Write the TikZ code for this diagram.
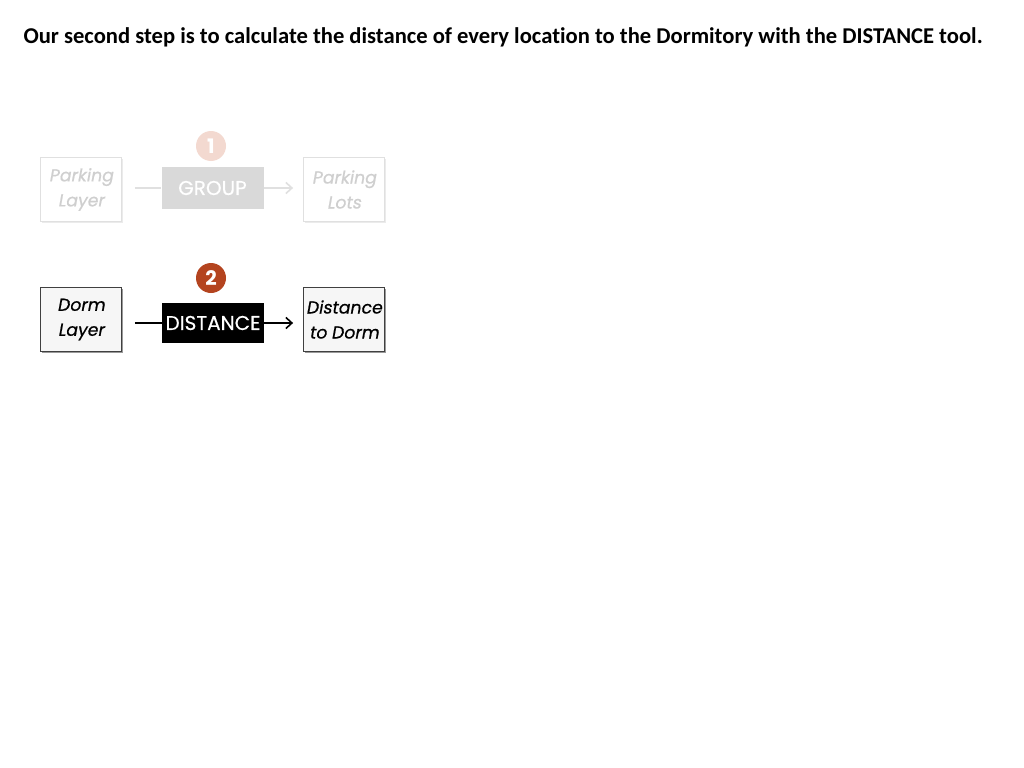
\documentclass[tikz,border=0pt]{standalone}
\usepackage{fontspec}
\setmainfont[Ligatures={NoCommon}]{Carlito}
\newfontfamily\futit[FakeSlant=0.18,FakeBold=0.6]{Poppins}
\newfontfamily\futup[FakeBold=0.5]{Poppins}
\newfontfamily\futnum{Poppins}
\usetikzlibrary{arrows.meta,shadows}
\definecolor{rust}{HTML}{B4441F}
\definecolor{paleRust}{HTML}{F3D9D0}
\definecolor{fadeText}{HTML}{CFCFCF}
\definecolor{fadeLine}{HTML}{E0E0E0}
\definecolor{fadeFill}{HTML}{D9D9D9}
\definecolor{boxFill}{HTML}{F6F6F6}
\begin{document}
\begin{tikzpicture}[x=1bp,y=-1bp,
  layerbox/.style={draw=black!75, line width=0.8bp, fill=boxFill, minimum width=81bp, minimum height=64bp,
    inner sep=0pt, align=center, font=\futit\fontsize{17.3bp}{25bp}\selectfont,
    drop shadow={shadow xshift=1.5bp, shadow yshift=-1.5bp, fill=black!40, opacity=1}},
  fadebox/.style={draw=fadeLine, line width=0.8bp, fill=white, minimum width=81bp, minimum height=64bp,
    inner sep=0pt, align=center, text=fadeText, font=\futit\fontsize{17.3bp}{25bp}\selectfont,
    drop shadow={shadow xshift=1.5bp, shadow yshift=-1.5bp, fill=black!8, opacity=1}},
  toolbox/.style={fill=black, text=white, minimum width=102bp, minimum height=40bp, inner sep=0pt,
    font=\futup\fontsize{20bp}{22bp}\selectfont},
  fadetool/.style={fill=fadeFill, text=white, minimum width=102bp, minimum height=42bp, inner sep=0pt,
    font=\futup\fontsize{20bp}{22bp}\selectfont},
  stepnum/.style={circle, fill=rust, text=white, minimum size=30bp, inner sep=0pt,
    font=\futnum\bfseries\fontsize{20bp}{22bp}\selectfont},
  fadenum/.style={circle, fill=paleRust, text=white, minimum size=30bp, inner sep=0pt,
    font=\futnum\bfseries\fontsize{20bp}{22bp}\selectfont},
  conn/.style={line width=2bp, black},
  fadeconn/.style={line width=2bp, fadeLine},
]
\useasboundingbox (0,0) rectangle (1024,768);
\fill[white] (0,0) rectangle (1024,768);

\node[anchor=west, font=\bfseries\fontsize{22.6bp}{26bp}\selectfont] (title) at (20,37)
  {Our second step is to calculate the distance of every location to the Dormitory with the DISTANCE tool.};

% row 1 (faded)
\node[fadebox] (park) at (81,189.5) {Parking\\Layer};
\node[fadetool] (group) at (212.5,188) {GROUP};
\node[fadebox] (lots) at (344,189.5) {Parking\\Lots};
\node[fadenum] (n1) at (211,146) {1};
\draw[fadeconn, shorten <=13bp] (park.east |- group.west) -- (group.west);
\draw[fadeconn, -{Straight Barb[length=6bp,width=11bp,line width=1.6bp]}, shorten >=10bp] (group.east) -- (lots.west |- group.east);

% row 2
\node[layerbox] (dorm) at (81,319.5) {Dorm\\Layer};
\node[toolbox] (dist) at (213,323) {DISTANCE};
\node[layerbox] (out) at (344,319.5) {Distance\\to Dorm};
\node[stepnum] (n2) at (211,278) {2};
\draw[conn, shorten <=13bp] (dorm.east |- dist.west) -- (dist.west);
\draw[conn, -{Straight Barb[length=6bp,width=11bp,line width=1.6bp]}, shorten >=10bp] (dist.east) -- (out.west |- dist.east);
\end{tikzpicture}
\end{document}
